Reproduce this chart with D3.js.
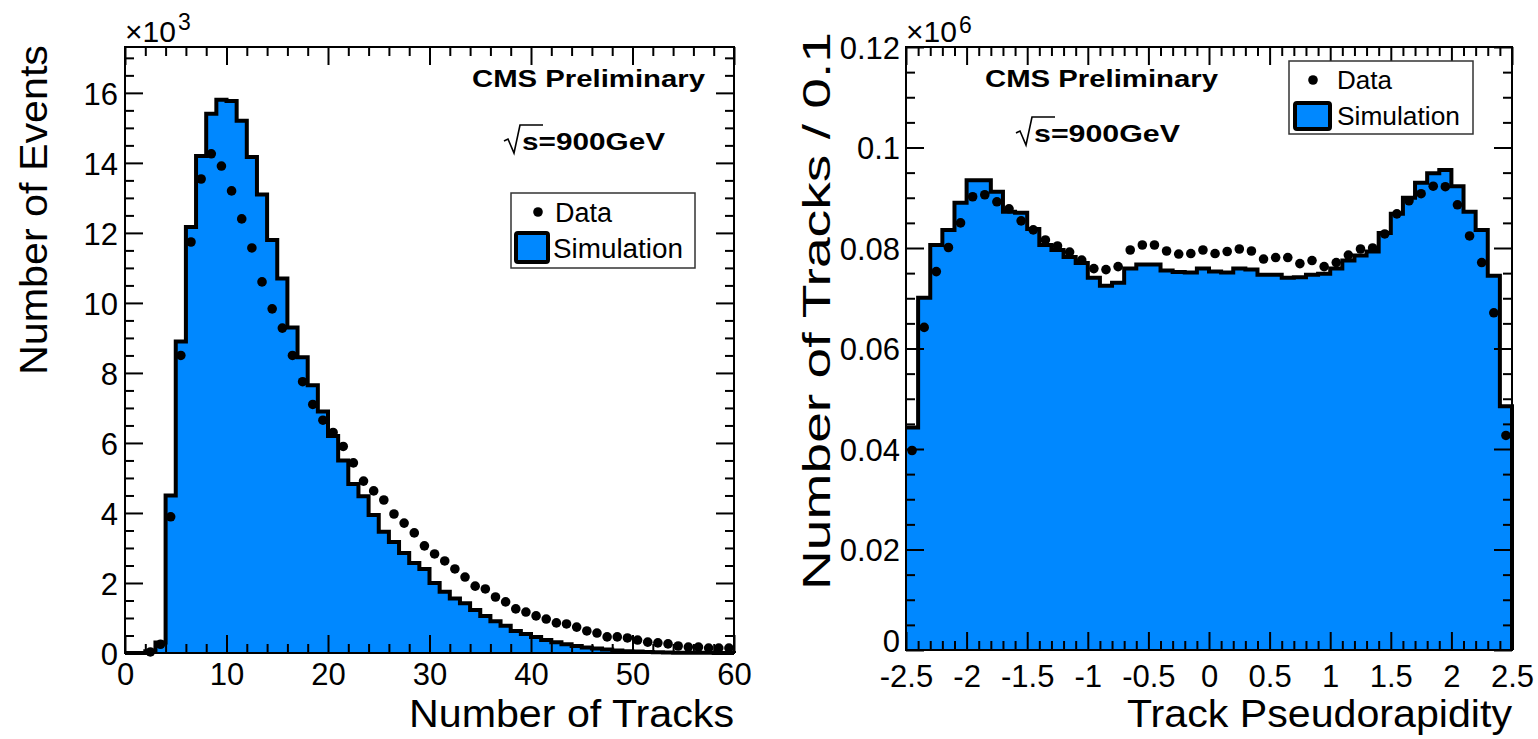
<!DOCTYPE html>
<html>
<head>
<meta charset="utf-8">
<script src="https://cdn.jsdelivr.net/npm/d3@7"></script>
<style>
    body { margin: 0; background: #fff; }
    svg text { font-family: "Liberation Sans", Arial, Helvetica, sans-serif; fill: #000; }
</style>
</head>
<body>
<svg id="chart" width="1538" height="739"></svg>
<script>
// ---- data (left: events per number of tracks, x10^3) ----
const trackSim = [
    0, 0, 0.05, 0.3, 4.5, 8.9, 12.17, 14.2, 15.4, 15.8,
    15.77, 15.2, 14.17, 13.1, 11.8, 10.7, 9.3, 8.45, 7.65, 6.9,
    6.2, 5.5, 4.83, 4.48, 3.94, 3.46, 3.17, 2.86, 2.57, 2.4,
    2.0, 1.75, 1.56, 1.42, 1.23, 1.06, 0.91, 0.78, 0.63, 0.54,
    0.46, 0.37, 0.31, 0.25, 0.2, 0.16, 0.13, 0.1, 0.07, 0.05,
    0.04, 0.03, 0.02, 0.015, 0.01, 0.01, 0.005, 0.005, 0.003, 0.002
];
const trackData = [
    0, 0, 0.03, 0.25, 3.89, 8.5, 11.74, 13.54, 14.26, 13.91,
    13.2, 12.4, 11.57, 10.6, 9.83, 9.28, 8.5, 7.75, 7.1, 6.65,
    6.3, 5.9, 5.43, 4.91, 4.63, 4.37, 3.97, 3.71, 3.43, 3.06,
    2.83, 2.63, 2.4, 2.17, 1.91, 1.83, 1.6, 1.46, 1.26, 1.17,
    1.06, 0.97, 0.86, 0.83, 0.74, 0.63, 0.57, 0.46, 0.46, 0.43,
    0.37, 0.31, 0.29, 0.26, 0.2, 0.17, 0.17, 0.14, 0.14, 0.14
];
const trackXTicks = [0, 10, 20, 30, 40, 50, 60];
const trackYTicks = [0, 2, 4, 6, 8, 10, 12, 14, 16];

// ---- data (right: tracks per 0.1 in pseudorapidity, x10^6) ----
const etaSim = [
    0.0443, 0.0701, 0.0806, 0.0836, 0.089, 0.0935, 0.0935, 0.0912, 0.0872, 0.087,
    0.0838, 0.0806, 0.0796, 0.0782, 0.077, 0.0741, 0.0725, 0.0731, 0.0759, 0.0767,
    0.0767, 0.0755, 0.0752, 0.0751, 0.0759, 0.0753, 0.0751, 0.0759, 0.0757, 0.0747,
    0.0747, 0.0741, 0.0742, 0.0747, 0.0749, 0.0759, 0.0775, 0.0785, 0.0793, 0.083,
    0.0868, 0.09, 0.093, 0.0949, 0.0955, 0.0923, 0.0872, 0.0836, 0.0745, 0.0485
];
const etaData = [
    0.0397, 0.0642, 0.0753, 0.0801, 0.085, 0.0902, 0.0906, 0.0892, 0.0878, 0.0854,
    0.0836, 0.0816, 0.0804, 0.0792, 0.0776, 0.0759, 0.0757, 0.0763, 0.0796, 0.0806,
    0.0806, 0.0794, 0.0788, 0.0789, 0.0796, 0.0789, 0.0793, 0.0798, 0.0794, 0.0778,
    0.0781, 0.0781, 0.0769, 0.0775, 0.0763, 0.0771, 0.0786, 0.0798, 0.08, 0.0828,
    0.0868, 0.0894, 0.0908, 0.0923, 0.0922, 0.0886, 0.0824, 0.0771, 0.0671, 0.0427
];
const etaXTicks = [-2.5, -2, -1.5, -1, -0.5, 0, 0.5, 1, 1.5, 2, 2.5];
const etaYTicks = [0, 0.02, 0.04, 0.06, 0.08, 0.1, 0.12];

const simBlue = "#0088ff";

class HistPanel {
    constructor(svg, cfg) {
        this.svg = svg;
        this.cfg = cfg;
        this.initVis();
    }

    initVis() {
        const vis = this;
        const c = vis.cfg;

        vis.x = d3.scaleLinear().domain(c.xDomain).range([c.left, c.right]);
        vis.y = d3.scaleLinear().domain(c.yDomain).range([c.bottom, c.top]);

        // step points for the histogram
        const w = (c.xDomain[1] - c.xDomain[0]) / c.sim.length;
        const steps = [];
        c.sim.forEach((v, i) => {
            const x0 = c.xDomain[0] + i * w;
            steps.push([x0, v], [x0 + w, v]);
        });

        vis.svg.append("path")
            .datum(steps)
            .attr("d", d3.area().x(d => vis.x(d[0])).y0(vis.y(0)).y1(d => vis.y(d[1])))
            .attr("fill", simBlue);

        vis.svg.append("path")
            .datum(steps.concat([[c.xDomain[1], 0]]))
            .attr("d", d3.line().x(d => vis.x(d[0])).y(d => vis.y(d[1])))
            .attr("fill", "none")
            .attr("stroke", "#000")
            .attr("stroke-width", 4);

        // axes, ticks pointing inward
        const xMinor = d3.range(c.xDomain[0], c.xDomain[1] + 1e-9, c.xMinor)
            .filter(v => !c.xTicks.some(t => Math.abs(t - v) < 1e-6));
        const yMinor = d3.range(c.yDomain[0], c.yDomain[1] + 1e-9, c.yMinor)
            .filter(v => !c.yTicks.some(t => Math.abs(t - v) < 1e-6));

        const axes = [
            { gen: d3.axisBottom(vis.x), tr: `translate(0,${c.bottom})`, major: c.xTicks, minor: xMinor, labels: true },
            { gen: d3.axisTop(vis.x), tr: `translate(0,${c.top})`, major: c.xTicks, minor: xMinor, labels: false },
            { gen: d3.axisLeft(vis.y), tr: `translate(${c.left},0)`, major: c.yTicks, minor: yMinor, labels: true },
            { gen: d3.axisRight(vis.y), tr: `translate(${c.right},0)`, major: c.yTicks, minor: yMinor, labels: false }
        ];
        axes.forEach((a, k) => {
            const gMinor = vis.svg.append("g").attr("transform", a.tr)
                .call(a.gen.tickValues(a.minor).tickSize(-9).tickSizeOuter(0).tickFormat(""));
            gMinor.select(".domain").remove();
            gMinor.selectAll("line").attr("stroke-width", 2);

            const gMajor = vis.svg.append("g").attr("transform", a.tr)
                .call(a.gen.tickValues(a.major).tickSize(-18).tickSizeOuter(0)
                    .tickFormat(a.labels ? (d => String(+d.toFixed(3))) : ""));
            gMajor.select(".domain").remove();
            gMajor.selectAll("line").attr("stroke-width", 2);
            gMajor.selectAll("text")
                .style("font-family", "'Liberation Sans', Arial, sans-serif")
                .style("font-size", "31px")
                .attr("fill", "#000");
            if (a.labels && k === 0) {
                gMajor.selectAll("text").attr("dy", null).attr("y", c.xLabelBase);
            }
            if (a.labels && k === 2) {
                gMajor.selectAll("text")
                    .attr("dy", d => d === 0 ? (0.36 - c.zeroLift) + "em" : "0.36em")
                    .attr("x", -c.yLabelPad);
            }
        });

        // frame
        vis.svg.append("rect")
            .attr("x", c.left).attr("y", c.top)
            .attr("width", c.right - c.left).attr("height", c.bottom - c.top)
            .attr("fill", "none").attr("stroke", "#000").attr("stroke-width", 2);

        // data points
        vis.svg.append("g").selectAll("circle")
            .data(c.data.map((v, i) => ({ x: c.xDomain[0] + (i + 0.5) * w, v: v })).filter(d => d.v > 0))
            .join("circle")
            .attr("cx", d => vis.x(d.x))
            .attr("cy", d => vis.y(d.v))
            .attr("r", 4.8)
            .attr("fill", "#000");

        vis.drawTexts();
    }

    drawTexts() {
        const vis = this;
        const c = vis.cfg;

        // exponent label
        vis.svg.append("text").attr("x", c.left).attr("y", 42)
            .style("font-size", "30px").text("\u00d710");
        vis.svg.append("text").attr("x", c.left + 53).attr("y", c.expBase)
            .style("font-size", "23px").text(c.exponent);

        // axis titles
        vis.svg.append("text")
            .attr("x", c.right).attr("y", 727)
            .attr("text-anchor", "end")
            .attr("textLength", c.xTitleLen).attr("lengthAdjust", "spacingAndGlyphs")
            .style("font-size", "38px")
            .text(c.xTitle);
        vis.svg.append("text")
            .attr("transform", `translate(${c.yTitleX},${c.yTitleTop}) rotate(-90)`)
            .attr("text-anchor", "end")
            .attr("textLength", c.yTitleLen).attr("lengthAdjust", "spacingAndGlyphs")
            .style("font-size", "38px")
            .text(c.yTitle);

        // CMS label
        vis.svg.append("text")
            .attr("x", c.cms[0]).attr("y", c.cms[1])
            .attr("textLength", 233).attr("lengthAdjust", "spacingAndGlyphs")
            .style("font-size", "24px").style("font-weight", "bold")
            .text("CMS Preliminary");

        // sqrt(s) label
        const [ex, ey] = c.energy;
        vis.svg.append("path")
            .attr("d", `M${ex - 3},${ey - 9} L${ex + 1},${ey - 11} L${ex + 7},${ey + 3} L${ex + 13},${ey - 25} L${ex + 36},${ey - 25}`)
            .attr("fill", "none").attr("stroke", "#000").attr("stroke-width", 1.6);
        vis.svg.append("text")
            .attr("x", ex + 15).attr("y", ey)
            .attr("textLength", c.energyLen).attr("lengthAdjust", "spacingAndGlyphs")
            .style("font-size", "24px").style("font-weight", "bold")
            .text("s=900GeV");

        // legend
        const L = c.legend;
        vis.svg.append("rect")
            .attr("x", L.x).attr("y", L.y).attr("width", L.w).attr("height", L.h)
            .attr("fill", "#fff").attr("stroke", "#333").attr("stroke-width", 1.5);
        vis.svg.append("circle").attr("cx", L.dot[0]).attr("cy", L.dot[1]).attr("r", 4.8).attr("fill", "#000");
        vis.svg.append("text")
            .attr("x", L.text1[0]).attr("y", L.text1[1]).attr("dy", "0.36em")
            .attr("textLength", L.len1).attr("lengthAdjust", "spacingAndGlyphs")
            .style("font-size", L.fs + "px").text("Data");
        vis.svg.append("rect")
            .attr("x", L.box[0]).attr("y", L.box[1]).attr("width", L.box[2]).attr("height", L.box[3])
            .attr("rx", 2)
            .attr("fill", simBlue).attr("stroke", "#000").attr("stroke-width", 4);
        vis.svg.append("text")
            .attr("x", L.text2[0]).attr("y", L.text2[1]).attr("dy", "0.36em")
            .attr("textLength", L.len2).attr("lengthAdjust", "spacingAndGlyphs")
            .style("font-size", L.fs + "px").text("Simulation");
    }
}

const svg = d3.select("#chart");

new HistPanel(svg, {
    sim: trackSim, data: trackData,
    xDomain: [0, 60], yDomain: [0, 17.31],
    left: 125, right: 734, top: 47, bottom: 653,
    xTicks: trackXTicks, yTicks: trackYTicks, xMinor: 2, yMinor: 0.5,
    xLabelBase: 32, yLabelPad: 7, zeroLift: 0,
    exponent: "3", expBase: 30,
    xTitle: "Number of Tracks", xTitleLen: 325,
    yTitle: "Number of Events", yTitleX: 47, yTitleTop: 45, yTitleLen: 330,
    cms: [472, 87], energy: [507, 150], energyLen: 143,
    legend: { x: 511, y: 193, w: 184, h: 75, dot: [538, 212], text1: [555, 212], len1: 57,
              box: [516, 233, 32, 29], text2: [553, 248], len2: 130, fs: 27 }
});

new HistPanel(svg, {
    sim: etaSim, data: etaData,
    xDomain: [-2.5, 2.5], yDomain: [0, 0.12],
    left: 906, right: 1512, top: 47, bottom: 650,
    xTicks: etaXTicks, yTicks: etaYTicks, xMinor: 0.1, yMinor: 0.005,
    xLabelBase: 37, yLabelPad: 6, zeroLift: 0.32,
    exponent: "6", expBase: 33,
    xTitle: "Track Pseudorapidity", xTitleLen: 385,
    yTitle: "Number of Tracks / 0.1", yTitleX: 830, yTitleTop: 32, yTitleLen: 558,
    cms: [985, 87], energy: [1019, 142], energyLen: 146,
    legend: { x: 1289, y: 61, w: 184, h: 73, dot: [1313, 80], text1: [1337, 80], len1: 55,
              box: [1295, 103, 35, 26], text2: [1337, 116], len2: 123, fs: 26 }
});
</script>
</body>
</html>
